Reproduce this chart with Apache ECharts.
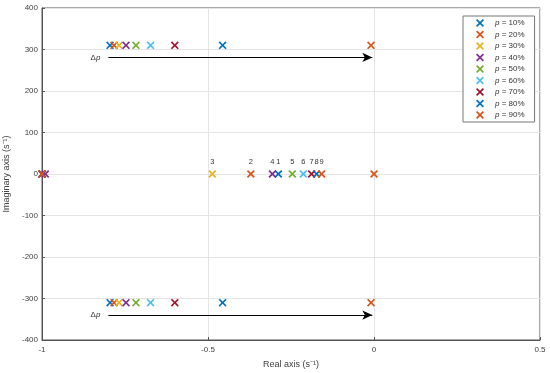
<!DOCTYPE html>
<html><head><meta charset="utf-8">
<script src="https://cdn.jsdelivr.net/npm/echarts@6/dist/echarts.min.js"></script>
<style>html,body{margin:0;padding:0;background:#fff}#c{width:550px;height:373px}</style>
</head><body><div id="c"></div>
<script>
// ---- data ----
const pLevels = ['10%','20%','30%','40%','50%','60%','70%','80%','90%'];
const colors = ['#0072BD','#D95319','#EDB120','#7E2F8E','#77AC30','#4DBEEE','#A2142F','#0072BD','#D95319'];
const complexRe = [-0.795,-0.783,-0.768,-0.747,-0.717,-0.673,-0.600,-0.456,-0.009];
const complexIm = [310,310,310,310,310,310,310,310,310];
const mainRealPole = [-0.288,-0.371,-0.487,-0.306,-0.246,-0.213,-0.188,-0.173,-0.158];
const poleNumbers = ['1','2','3','4','5','6','7','8','9'];
const otherRealPoles = [[-1],[-1],[-1],[-0.99],[-1],[-1],[-1],[-1],[-1,0]];
const arrowStartX = -0.80, arrowEndX = -0.005;
const arrowY = [281, -340];
const xTicks = {min:-1, max:0.5, interval:0.5};
const yTicks = {min:-400, max:400, interval:100};

const X = 'path://M0,1.5L1.5,0L5,3.5L8.5,0L10,1.5L6.5,5L10,8.5L8.5,10L5,6.5L1.5,10L0,8.5L3.5,5Z';
const font = 'Liberation Sans, Arial, sans-serif';
const txt = '#404040';

const series = pLevels.map((p,i)=>{
  const data = [
    [complexRe[i], complexIm[i]],
    [complexRe[i], -complexIm[i]],
    {value:[mainRealPole[i],0], label:{show:true, formatter:poleNumbers[i]}}
  ];
  otherRealPoles[i].forEach(v=>data.push([v,0]));
  return {
    type:'scatter', name:'p = '+p, symbol:X, symbolSize:8,
    itemStyle:{color:colors[i], opacity:1}, z:3+i,
    label:{show:false, position:'top', distance:4, fontSize:7.5, color:'#333', fontFamily:font},
    data
  };
});
series.push({
  type:'scatter', data:[], silent:true,
  markLine:{
    silent:true, symbol:['none','arrow'], symbolSize:[7,10],
    lineStyle:{color:'#000', width:1, type:'solid'},
    label:{show:true, position:'start', formatter:'Δ{i|p}', fontSize:8, color:'#333', fontFamily:font, distance:8,
      rich:{i:{fontStyle:'italic', fontSize:8, color:'#333', fontFamily:font}}},
    data: arrowY.map(y=>[{coord:[arrowStartX,y]},{coord:[arrowEndX,y]}])
  }
});

const chart = echarts.init(document.getElementById('c'));
chart.setOption({
  animation:false,
  backgroundColor:'#fff',
  grid:{left:42, right:10, top:8, bottom:33, show:true, borderColor:'#555', borderWidth:1, outerBoundsMode:'none', containLabel:false},
  legend:{
    orient:'vertical', left:463, top:16,
    padding:[3,10,3,13], itemWidth:8, itemHeight:8, itemGap:3.5,
    borderColor:'#777', borderWidth:1, backgroundColor:'#fff',
    textStyle:{fontSize:8, color:'#333', fontFamily:font, padding:[0,0,0,6], rich:{i:{fontStyle:'italic', fontSize:8, color:'#333', fontFamily:font}}},
    formatter: n => '{i|p}' + n.slice(1),
    data: pLevels.map(p=>({name:'p = '+p, icon:X}))
  },
  xAxis:{
    type:'value', min:xTicks.min, max:xTicks.max, interval:xTicks.interval,
    name:'Real axis (s⁻¹)', nameLocation:'middle', nameGap:20,
    nameTextStyle:{fontSize:9, color:txt, fontFamily:font},
    axisLine:{onZero:false, lineStyle:{color:'#555'}}, axisTick:{inside:true, length:3, lineStyle:{color:'#555'}},
    axisLabel:{fontSize:8, color:txt, fontFamily:font, margin:6},
    splitLine:{show:true, lineStyle:{color:'#e4e4e4'}}
  },
  yAxis:{
    type:'value', min:yTicks.min, max:yTicks.max, interval:yTicks.interval,
    name:'Imaginary axis (s⁻¹)', nameLocation:'middle', nameGap:28,
    nameTextStyle:{fontSize:9, color:txt, fontFamily:font},
    axisLine:{onZero:false, lineStyle:{color:'#555'}}, axisTick:{inside:true, length:3, lineStyle:{color:'#555'}},
    axisLabel:{fontSize:8, color:txt, fontFamily:font, margin:4},
    splitLine:{show:true, lineStyle:{color:'#e4e4e4'}}
  },
  series
});
</script></body></html>
